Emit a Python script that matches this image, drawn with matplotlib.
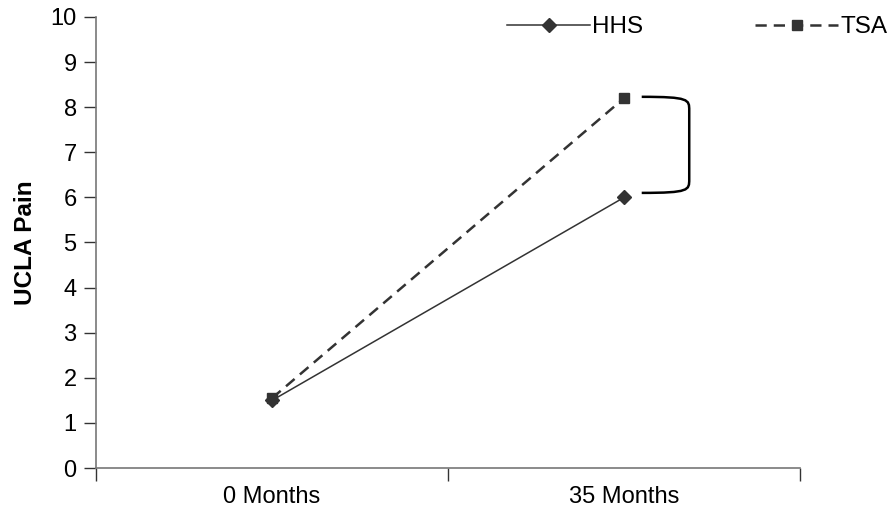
import matplotlib.pyplot as plt
from matplotlib.path import Path
from matplotlib.patches import PathPatch

plt.rcParams['font.family'] = ['Liberation Sans', 'DejaVu Sans']

# data
categories = ['0 Months', '35 Months']
hhs = [1.5, 6.0]
tsa = [1.55, 8.2]

fig = plt.figure(figsize=(8.9, 5.21), dpi=100)
ax = fig.add_axes([0.108, 0.1017, 0.791, 0.8657])

x = list(range(len(categories)))
ax.plot(x, hhs, color='#333333', lw=1.1, marker='D', markersize=7.5,
        label='HHS', zorder=3)
ax.plot(x, tsa, color='#333333', lw=1.8, ls=(0, (4.5, 2.8)), marker='s',
        markersize=7.5, label='TSA', zorder=4)

# bracket between the two groups at the last time point
x0 = x[-1] + 0.05
x1 = x[-1] + 0.185
yt = tsa[-1] + 0.03
yb = hhs[-1] + 0.1
r = 0.3
verts = [(x0, yt), (x1, yt), (x1, yt - r * 0.2), (x1, yt - r),
         (x1, yb + r), (x1, yb + r * 0.2), (x1, yb), (x0, yb)]
codes = [Path.MOVETO, Path.CURVE4, Path.CURVE4, Path.CURVE4,
         Path.LINETO, Path.CURVE4, Path.CURVE4, Path.CURVE4]
ax.add_patch(PathPatch(Path(verts, codes), fill=False, lw=1.8, color='black'))

ax.set_xlim(-0.5, len(categories) - 0.5)
ax.set_ylim(0, 10)
ax.set_yticks(range(0, 11))
ax.set_xticks([i - 0.5 for i in range(len(categories) + 1)])
ax.set_xticklabels([])
ax.set_xticks(x, minor=True)
ax.set_xticklabels(categories, minor=True)
ax.tick_params(axis='x', which='minor', length=0, pad=13, labelsize=17)
ax.tick_params(axis='x', which='major', length=9, width=1, color='#333333')
ax.tick_params(axis='y', length=9, width=1, color='#333333', labelsize=17,
               pad=5)

for s in ['top', 'right']:
    ax.spines[s].set_visible(False)
for s in ['left', 'bottom']:
    ax.spines[s].set_color('#777777')
    ax.spines[s].set_linewidth(1.2)

ax.set_ylabel('UCLA Pain', fontsize=17.5, fontweight='bold', labelpad=10)

ax.legend(loc='upper right', bbox_to_anchor=(1.155, 1.05), ncol=2, frameon=False,
          fontsize=17.5, handlelength=3.4, handletextpad=0.1, columnspacing=4.6)

fig.savefig('out.png', dpi=100)
